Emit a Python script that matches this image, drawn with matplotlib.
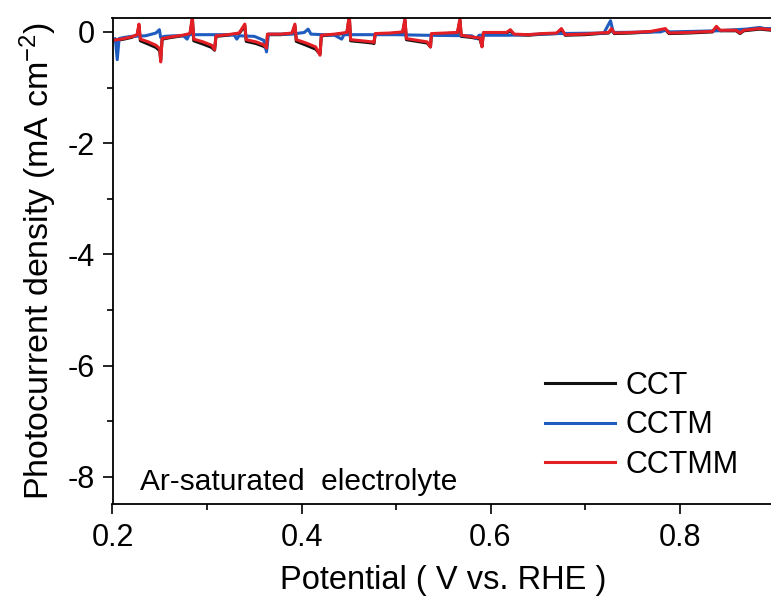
import matplotlib
matplotlib.use("Agg")
import matplotlib.pyplot as plt
from matplotlib.ticker import MultipleLocator

plt.rcParams['font.family'] = ['Liberation Sans', 'DejaVu Sans']
plt.rcParams['mathtext.default'] = 'regular'

# ---- data (V vs. RHE, mA cm^-2) ----
cctmm_v = [0.200, 0.205, 0.212, 0.220, 0.226, 0.228, 0.2295, 0.238, 0.246, 0.250, 0.251, 0.2525,
           0.262, 0.274, 0.282, 0.2845, 0.286, 0.296, 0.305, 0.308, 0.3095, 0.322, 0.334, 0.340,
           0.3415, 0.352, 0.360, 0.363, 0.364, 0.378, 0.390, 0.393, 0.3945, 0.405, 0.415, 0.4196,
           0.421, 0.435, 0.448, 0.4506, 0.452, 0.464, 0.475, 0.4767, 0.478, 0.494, 0.507, 0.5095,
           0.511, 0.522, 0.533, 0.5365, 0.5375, 0.552, 0.565, 0.5677, 0.569, 0.580, 0.589, 0.591,
           0.5925, 0.605, 0.617, 0.621, 0.625, 0.640, 0.655, 0.670, 0.675, 0.679, 0.700, 0.715,
           0.725, 0.728, 0.731, 0.750, 0.770, 0.785, 0.789, 0.810, 0.835, 0.839, 0.843, 0.860,
           0.864, 0.868, 0.885, 0.897]
cctmm_j = [-0.15, -0.14, -0.12, -0.09, -0.05, 0.14, -0.13, -0.18, -0.24, -0.30, -0.54, -0.12,
           -0.09, -0.06, -0.03, 0.28, -0.13, -0.18, -0.24, -0.32, -0.07, -0.05, -0.02, 0.14,
           -0.14, -0.18, -0.23, -0.29, -0.04, -0.04, -0.02, 0.14, -0.14, -0.20, -0.27, -0.42,
           -0.06, -0.04, -0.01, 0.30, -0.14, -0.16, -0.18, -0.19, -0.03, -0.02, 0.00, 0.24,
           -0.12, -0.15, -0.18, -0.27, -0.03, -0.02, -0.01, 0.24, -0.06, -0.09, -0.11, -0.27,
           -0.01, -0.01, -0.01, 0.04, -0.04, -0.05, -0.03, -0.02, 0.06, -0.05, -0.04, -0.02,
           -0.01, 0.06, -0.02, -0.01, 0.01, 0.06, -0.02, -0.01, 0.01, 0.10, 0.03, 0.03,
           -0.02, 0.03, 0.06, 0.04]

cct_v = cctmm_v
cct_j = [-0.16, -0.15, -0.13, -0.10, -0.06, 0.10, -0.16, -0.22, -0.28, -0.34, -0.50, -0.13,
         -0.10, -0.07, -0.04, 0.22, -0.16, -0.22, -0.28, -0.33, -0.08, -0.06, -0.03, 0.11,
         -0.17, -0.21, -0.26, -0.30, -0.05, -0.05, -0.03, 0.11, -0.17, -0.24, -0.31, -0.40,
         -0.07, -0.05, -0.02, 0.26, -0.16, -0.18, -0.20, -0.21, -0.04, -0.03, -0.01, 0.20,
         -0.14, -0.17, -0.20, -0.27, -0.04, -0.03, -0.02, 0.20, -0.08, -0.10, -0.13, -0.26,
         -0.02, -0.02, -0.02, 0.02, -0.05, -0.06, -0.04, -0.03, 0.04, -0.06, -0.05, -0.03,
         -0.02, 0.04, -0.03, -0.02, 0.00, 0.04, -0.03, -0.02, 0.00, 0.08, 0.02, 0.02,
         -0.03, 0.02, 0.05, 0.03]

cctm_v = [0.200, 0.203, 0.205, 0.207, 0.212, 0.220, 0.235, 0.246, 0.2496, 0.251, 0.255, 0.265,
          0.275, 0.279, 0.281, 0.300, 0.320, 0.329, 0.3315, 0.334, 0.350, 0.360, 0.363, 0.365,
          0.390, 0.403, 0.407, 0.410, 0.435, 0.4425, 0.445, 0.470, 0.500, 0.530, 0.580, 0.585,
          0.588, 0.620, 0.670, 0.720, 0.727, 0.730, 0.780, 0.785, 0.790, 0.840, 0.870, 0.885,
          0.890, 0.897]
cctm_j = [-0.15, -0.12, -0.50, -0.12, -0.10, -0.08, -0.07, -0.02, 0.04, -0.10, -0.08, -0.07,
          -0.07, -0.13, -0.05, -0.05, -0.05, -0.06, -0.13, -0.07, -0.08, -0.15, -0.36, -0.04,
          -0.04, -0.01, 0.05, -0.04, -0.06, -0.13, -0.05, -0.05, -0.05, -0.06, -0.07, -0.12,
          -0.06, -0.06, -0.03, -0.02, 0.20, -0.01, 0.00, 0.03, 0.00, 0.02, 0.05, 0.08,
          0.06, 0.06]

labels = ['CCT', 'CCTM', 'CCTMM']
colors = ['#111111', '#1f5cbf', '#e31e24']

fig = plt.figure(figsize=(7.71, 6.08), dpi=100)
ax = fig.add_axes([112.5 / 771, 1 - 504 / 608, (774 - 112.5) / 771, (504 - 18) / 608])

ax.plot(cct_v, cct_j, color=colors[0], lw=2.2, label=labels[0])
ax.plot(cctm_v, cctm_j, color=colors[1], lw=2.2, label=labels[1])
ax.plot(cctmm_v, cctmm_j, color=colors[2], lw=2.2, label=labels[2])

ax.set_xlim(0.2, 0.9)
ax.set_ylim(-8.49, 0.25)
ax.xaxis.set_minor_locator(MultipleLocator(0.1))
ax.yaxis.set_minor_locator(MultipleLocator(1))
ax.set_xticks([0.2, 0.4, 0.6, 0.8])
ax.set_xticklabels(['0.2', '0.4', '0.6', '0.8'])
ax.set_yticks([0, -2, -4, -6, -8])
ax.set_yticklabels(['0', '-2', '-4', '-6', '-8'])

for s in ax.spines.values():
    s.set_linewidth(1.3)
ax.tick_params(which='major', direction='out', length=7, width=1.2, labelsize=22)
ax.tick_params(axis='x', which='major', pad=7)
ax.tick_params(axis='y', which='major', pad=6)
ax.tick_params(which='minor', direction='out', length=4, width=1.2)

ax.set_xlabel('Potential ( V vs. RHE )', fontsize=23.5, labelpad=8)
ax.set_ylabel('Photocurrent density (mA cm$^{-2}$)', fontsize=24.5, labelpad=6)

ax.text(0.0416, 0.045, 'Ar-saturated  electrolyte', transform=ax.transAxes, fontsize=21.5,
        ha='left', va='center')

leg = ax.legend(loc='upper left', bbox_to_anchor=(545 / 771, 1 - 371 / 608),
                bbox_transform=fig.transFigure, frameon=False, fontsize=22,
                handlelength=2.3, handletextpad=0.35, labelspacing=0.31,
                borderpad=0, borderaxespad=0)

fig.savefig('out.png', dpi=100)
